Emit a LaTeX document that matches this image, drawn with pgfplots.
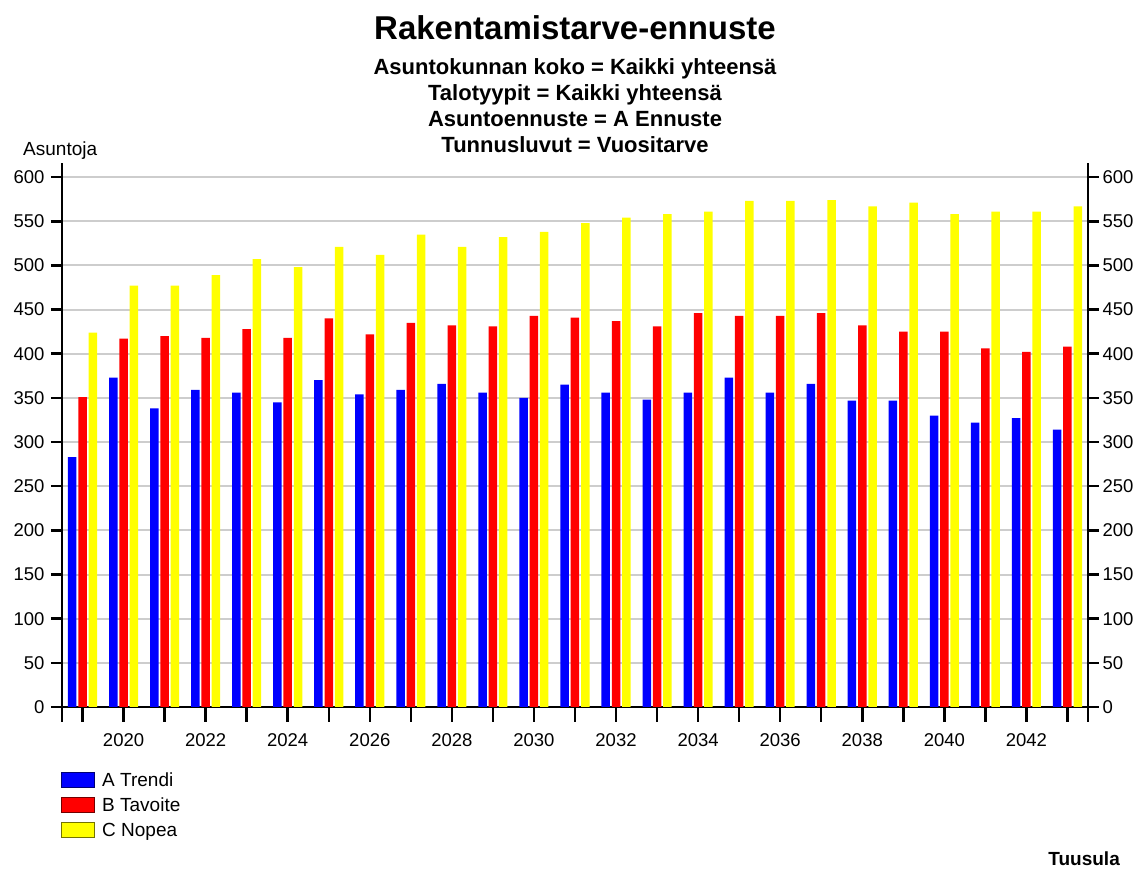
\documentclass[border=0pt]{standalone}
\usepackage{pgfplots}
\usepackage{pgfplotstable}
\usepackage{fontspec}
\setmainfont{Liberation Sans}
\pgfplotsset{compat=1.18}

\definecolor{cA}{RGB}{0,0,255}
\definecolor{cB}{RGB}{255,0,0}
\definecolor{cC}{RGB}{255,255,0}
\definecolor{gridc}{RGB}{205,205,205}

% vuosi 2019 = 0 ... 2043 = 24
\pgfplotstableread{
idx A B C
0 283 351 424
1 373 417 477
2 338 420 477
3 359 418 489
4 356 428 507
5 345 418 498
6 370 440 521
7 354 422 512
8 359 435 535
9 366 432 521
10 356 431 532
11 350 443 538
12 365 441 548
13 356 437 554
14 348 431 558
15 356 446 561
16 373 443 573
17 356 443 573
18 366 446 574
19 347 432 567
20 347 425 571
21 330 425 558
22 322 406 561
23 327 402 561
24 314 408 567
}\ennuste

\pgfplotsset{
  common/.style={
    at={(62pt,162pt)}, anchor=south west,
    scale only axis, width=1026pt, height=544pt,
    xmin=-0.5, xmax=24.5, ymin=0, ymax=616,
    ytick={0,50,...,600},
    tick align=outside,
    tick style={black, line width=2.5pt},
    axis line style={-, black, line width=2.5pt},
    ticklabel style={font=\fontsize{18.5}{22}\selectfont},
    /pgf/number format/assume math mode=true,
  },
}

\begin{document}
\begin{tikzpicture}
\useasboundingbox (0,0) rectangle (1141pt,869pt);

\node[anchor=base, font=\fontsize{33}{40}\selectfont\bfseries] at (575pt,829pt) {Rakentamistarve-ennuste};
\node[anchor=base, font=\fontsize{22}{26}\selectfont\bfseries] at (575pt,794pt) {Asuntokunnan koko = Kaikki yhteensä};
\node[anchor=base, font=\fontsize{22}{26}\selectfont\bfseries] at (575pt,768pt) {Talotyypit = Kaikki yhteensä};
\node[anchor=base, font=\fontsize{22}{26}\selectfont\bfseries] at (575pt,742pt) {Asuntoennuste = A Ennuste};
\node[anchor=base, font=\fontsize{22}{26}\selectfont\bfseries] at (575pt,716pt) {Tunnusluvut = Vuositarve};
\node[anchor=base west, inner sep=0pt, font=\fontsize{19}{22}\selectfont] at (23pt,713pt) {Asuntoja};
\node[anchor=base east, inner sep=0pt, font=\fontsize{19}{22}\selectfont\bfseries] at (1120pt,3pt) {Tuusula};

% pylvaat ja x-akseli
\begin{axis}[common,
  ybar=1.8pt, bar width=8.5pt,
  axis x line*=bottom,
  axis y line*=left,
  y axis line style={draw=none},
  ytick style={draw=none},
  yticklabel=\empty,
  ymajorgrids,
  grid style={gridc, line width=2pt},
  major tick length=15pt,
  xtick={0,...,24},
  xticklabels={,2020,,2022,,2024,,2026,,2028,,2030,,2032,,2034,,2036,,2038,,2040,,2042,},
  xticklabel style={yshift=-8pt},
  extra x ticks={-0.5,24.5},
  extra x tick labels={},
  extra x tick style={grid=none},
]
\addplot[fill=cA, draw=none] table[x=idx, y=A] {\ennuste};
\addplot[fill=cB, draw=none] table[x=idx, y=B] {\ennuste};
\addplot[fill=cC, draw=none] table[x=idx, y=C] {\ennuste};
\end{axis}

% vasen y-akseli
\begin{axis}[common,
  axis x line=none,
  axis y line*=left,
  major tick length=11pt,
  yticklabel style={xshift=-3pt},
]
\end{axis}

% oikea y-akseli
\begin{axis}[common,
  axis x line=none,
  axis y line*=right,
  major tick length=11pt,
  yticklabel pos=right,
]
\end{axis}

% selite
\foreach \c/\t [count=\i from 0] in {cA/A Trendi, cB/B Tavoite, cC/C Nopea} {
  \filldraw[fill=\c, draw=\c!45!black, line width=1pt]
    (61pt,{81pt-25*\i pt}) rectangle (94pt,{96pt-25*\i pt});
  \node[anchor=base west, inner sep=0pt, font=\fontsize{19}{22}\selectfont]
    at (102pt,{82pt-25*\i pt}) {\t};
}
\end{tikzpicture}
\end{document}
